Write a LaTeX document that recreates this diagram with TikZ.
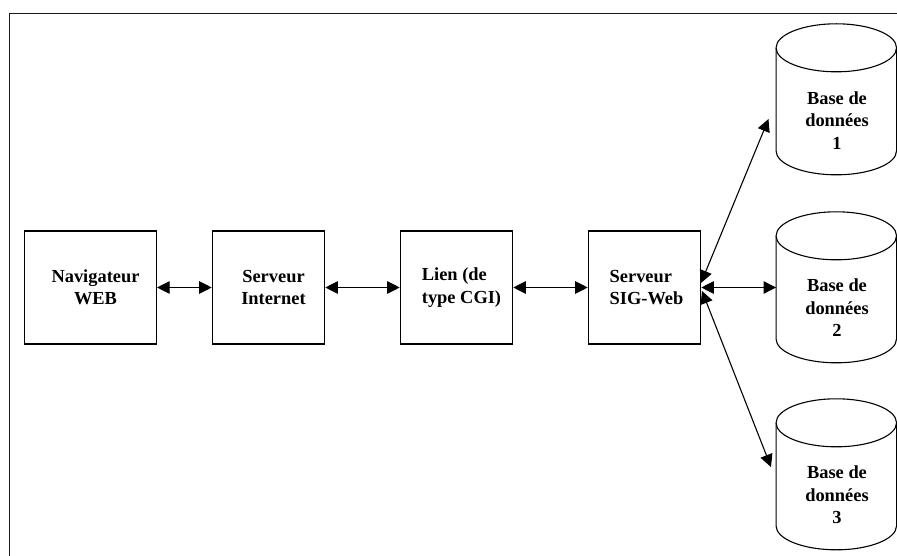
\documentclass[tikz,border=0pt]{standalone}
\usepackage{fontspec}
\setmainfont{Liberation Serif}
\usetikzlibrary{arrows.meta}
\tikzset{
  x=1pt,y=-1pt,
  lbl/.style={font=\fontsize{18.4}{22.4}\selectfont\bfseries,inner sep=0pt},
  boxn/.style={draw,line width=1.1pt,minimum height=113pt,inner sep=0pt},
  db/.style={minimum width=120.5pt,minimum height=151pt,inner sep=0pt},
  dbline/.style={line width=1.1pt},
  link/.style={line width=1.1pt,{Triangle[length=12.5pt,width=12.5pt]}-{Triangle[length=12.5pt,width=12.5pt]}},
}
\newcommand{\dbdraw}[1]{%
  \draw[dbline] (#1.north west) ++(0,24) arc[x radius=60.25pt,y radius=24pt,start angle=180,end angle=-180];
  \draw[dbline] (#1.north west) ++(0,24) -- ++(0,103)
     arc[x radius=60.25pt,y radius=24pt,start angle=180,end angle=360] -- ++(0,-103);
}
\begin{document}
\begin{tikzpicture}
\useasboundingbox (0,0) rectangle (897,556);
\draw[line width=1.2pt,gray!20!black] (9.5,556) -- (9.5,13.5) -- (897,13.5);
\node[boxn,minimum width=132pt] (nav) at (90.5,287.5) {};
\node[boxn,minimum width=112.5pt] (srv) at (268.5,287.5) {};
\node[boxn,minimum width=112.5pt] (cgi) at (456.5,287.5) {};
\node[boxn,minimum width=112.5pt] (sig) at (644.5,287.5) {};
\node[lbl,align=center] (tnav) at (95.5,287.5) {Navigateur\\WEB};
\node[lbl,align=center] (tsrv) at (273.5,287.5) {Serveur\\Internet};
\node[lbl,align=left] (tcgi) at (461.5,287.5) {Lien (de\\type CGI)};
\node[lbl,align=left] (tsig) at (646.5,287.5) {Serveur\\SIG-Web};
\node[db] (d1) at (836.5,99.5) {};
\node[db] (d2) at (836.5,287.5) {};
\node[db] (d3) at (836.5,474.5) {};
\dbdraw{d1}
\dbdraw{d2}
\dbdraw{d3}
\node[lbl,align=center] (t1) at (837,120.5) {Base de\\données\\1};
\node[lbl,align=center] (t2) at (837,308) {Base de\\données\\2};
\node[lbl,align=center] (t3) at (837,495) {Base de\\données\\3};
\coordinate (a1) at (701,283);
\coordinate (b1) at (768.5,119);
\coordinate (a3) at (702,291);
\coordinate (b3) at (771,467);
\draw[link] (nav.east) -- (srv.west);
\draw[link] (srv.east) -- (cgi.west);
\draw[link] (cgi.east) -- (sig.west);
\draw[link] (sig.east) -- (d2.west);
\draw[link] (a1) -- (b1);
\draw[link] (a3) -- (b3);
\end{tikzpicture}
\end{document}
